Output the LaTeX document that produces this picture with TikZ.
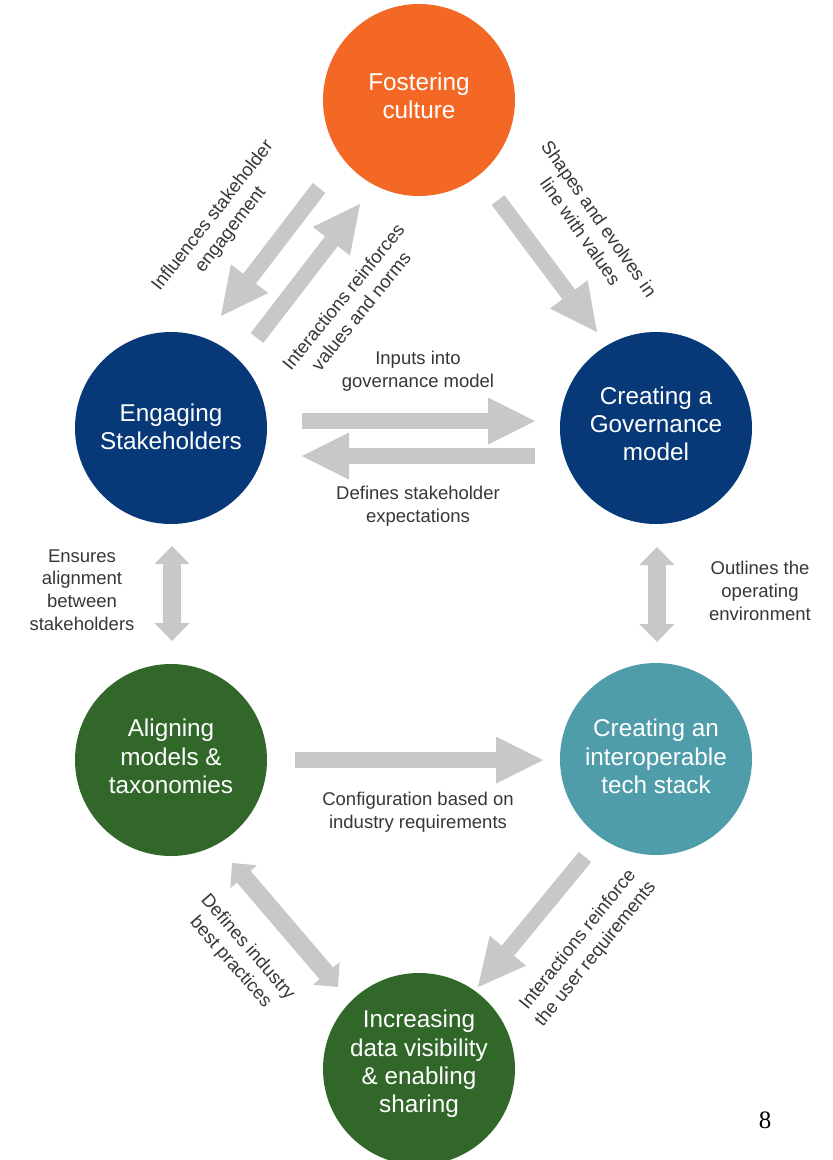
\documentclass[tikz,border=0pt]{standalone}
\usepackage{fontspec}
\setmainfont{Liberation Sans}
\newfontfamily\pagenumfont{Liberation Serif}
\usetikzlibrary{arrows.meta}
\definecolor{cOrange}{RGB}{242,104,36}
\definecolor{cNavy}{RGB}{7,57,121}
\definecolor{cGreen}{RGB}{49,104,42}
\definecolor{cTeal}{RGB}{79,157,170}
\definecolor{cArrow}{RGB}{200,200,200}
\definecolor{cText}{RGB}{55,55,55}
\tikzset{
  circnode/.style={circle, minimum size=192pt, inner sep=0pt, draw=none},
  circtext/.style={inner sep=0pt, text=white, align=center, font=\fontsize{24.3}{28.3}\selectfont},
  lbl/.style={text=cText, align=center, inner sep=0pt, font=\fontsize{18.5}{22.7}\selectfont},
  bigarrow/.style={draw=cArrow, line width=16pt, -{Triangle[width=47pt,length=47pt,line width=0pt]}},
  dblarrow/.style={draw=cArrow, line width=18pt, {Triangle[width=35pt,length=18pt,line width=0pt]}-{Triangle[width=35pt,length=18pt,line width=0pt]}}
}
\begin{document}
\begin{tikzpicture}[x=1pt,y=-1pt]
\useasboundingbox (0,0) rectangle (833,1160);
\fill[white] (0,0) rectangle (833,1160);

% circles
\node[circnode, fill=cOrange] (cult) at (419,100) {};
\node[circnode, fill=cNavy] (stake) at (171,428) {};
\node[circnode, fill=cNavy] (gov) at (656,428) {};
\node[circnode, fill=cGreen] (align) at (171,760) {};
\node[circnode, fill=cTeal] (tech) at (656,759) {};
\node[circnode, fill=cGreen] (data) at (419,1069) {};

% circle texts
\node[circtext] (cultT) at ([yshift=4pt]cult.center) {Fostering\\culture};
\node[circtext] (stakeT) at ([yshift=1pt]stake.center) {Engaging\\Stakeholders};
\node[circtext] (govT) at ([yshift=4pt]gov.center) {Creating a\\Governance\\model};
\node[circtext] (alignT) at ([yshift=3.5pt]align.center) {Aligning\\models \&\\taxonomies};
\node[circtext] (techT) at ([yshift=2.5pt]tech.center) {Creating an\\interoperable\\tech stack};
\node[circtext] (dataT) at ([yshift=5pt]data.center) {Increasing\\data visibility\\\& enabling\\sharing};

% arrow end points
\coordinate (a1s) at (319,188); \coordinate (a1e) at (221,316);
\coordinate (a2s) at (257,338); \coordinate (a2e) at (360,204);
\coordinate (a3s) at (498,200); \coordinate (a3e) at (597,332);
\coordinate (a4s) at (302,421); \coordinate (a4e) at (535,421);
\coordinate (a5s) at (535,456); \coordinate (a5e) at (302,456);
\coordinate (a6s) at (657,547); \coordinate (a6e) at (657,642);
\coordinate (a7s) at (172,546); \coordinate (a7e) at (172,641);
\coordinate (a8s) at (295,760); \coordinate (a8e) at (543,760);
\coordinate (a9s) at (232,863); \coordinate (a9e) at (338,987);
\coordinate (a10s) at (585,857); \coordinate (a10e) at (478,987);

% arrows
\draw[bigarrow] (a1s) -- (a1e);
\draw[bigarrow] (a2s) -- (a2e);
\draw[bigarrow] (a3s) -- (a3e);
\draw[bigarrow] (a4s) -- (a4e);
\draw[bigarrow] (a5s) -- (a5e);
\draw[dblarrow] (a6s) -- (a6e);
\draw[dblarrow] (a7s) -- (a7e);
\draw[bigarrow] (a8s) -- (a8e);
\draw[dblarrow] (a9s) -- (a9e);
\draw[bigarrow] (a10s) -- (a10e);

% labels
\node[lbl, rotate=52] (l1) at (222,223) {Influences stakeholder\\engagement};
\node[lbl, rotate=51] (l2) at (352,304) {Interactions reinforces\\values and norms};
\node[lbl, rotate=-55] (l3) at (590,225) {Shapes and evolves in\\line with values};
\node[lbl] (l4) at (418,371) {Inputs into\\governance model};
\node[lbl] (l5) at (418,506) {Defines stakeholder\\expectations};
\node[lbl] (l6) at (760,591) {Outlines the\\operating\\environment};
\node[lbl] (l7) at (82,590) {Ensures\\alignment\\between\\stakeholders};
\node[lbl] (l8) at (418,812) {Configuration based on\\industry requirements};
\node[lbl, rotate=-49] (l9) at (239,955) {Defines industry\\best practices};
\node[lbl, rotate=51] (l10) at (587,947) {Interactions reinforce\\the user requirements};

\node[text=black, inner sep=0pt, font=\pagenumfont\fontsize{25}{25}\selectfont] (pg) at (765,1120) {8};
\end{tikzpicture}
\end{document}
